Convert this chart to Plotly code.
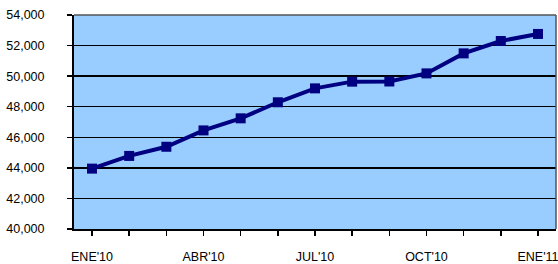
import plotly.graph_objects as go

months = ["ENE'10", "FEB'10", "MAR'10", "ABR'10", "MAY'10", "JUN'10", "JUL'10",
          "AGO'10", "SEP'10", "OCT'10", "NOV'10", "DIC'10", "ENE'11"]
values = [43950, 44780, 45380, 46450, 47240, 48290, 49200,
          49640, 49650, 50180, 51490, 52300, 52760]
tick_labels = ["ENE'10", "", "", "ABR'10", "", "", "JUL'10", "", "", "OCT'10", "", "", "ENE'11"]
y_ticks = [40000, 42000, 44000, 46000, 48000, 50000, 52000, 54000]

x_idx = list(range(len(months)))

fig = go.Figure()
fig.add_trace(go.Scatter(
    x=x_idx, y=values, mode="lines+markers",
    line=dict(color="#000080", width=4),
    marker=dict(symbol="square", size=10, color="#000080"),
    hoverinfo="skip", showlegend=False,
))

font = dict(family="Liberation Sans, Arial, sans-serif", size=12.5, color="#000000")

fig.update_layout(
    width=558, height=264,
    margin=dict(l=74, r=2, t=15, b=35, autoexpand=False),
    paper_bgcolor="white",
    plot_bgcolor="#99CCFF",
    font=font,
    xaxis=dict(
        range=[-0.485, 12.485],
        tickmode="array", tickvals=x_idx, ticktext=tick_labels,
        showgrid=False, zeroline=False,
        showline=True, linecolor="black", linewidth=2,
        ticks="outside", ticklen=5, tickcolor="black", tickwidth=1.5,
        ticklabelstandoff=10, automargin=False,
        ticklabeloverflow="allow",
        fixedrange=True,
    ),
    yaxis=dict(
        range=[40000, 54000],
        tickmode="array", tickvals=y_ticks,
        tickformat=",d",
        showgrid=True, gridcolor="black", gridwidth=1.5,
        zeroline=False,
        showline=True, linecolor="black", linewidth=2,
        ticks="outside", ticklen=5, tickcolor="black", tickwidth=1.5,
        ticklabelstandoff=20, automargin=False,
        fixedrange=True,
    ),
    shapes=[
        dict(type="line", xref="paper", yref="paper", x0=0, x1=1, y0=1, y1=1,
             line=dict(color="#555555", width=1.5)),
        dict(type="line", xref="paper", yref="paper", x0=1, x1=1, y0=0, y1=1,
             line=dict(color="#555555", width=1.5)),
    ],
)

fig.write_html(
    "out.html",
    config={"displayModeBar": False, "staticPlot": True},
    post_script="document.body.style.margin='0px';document.body.style.overflow='hidden';",
)
